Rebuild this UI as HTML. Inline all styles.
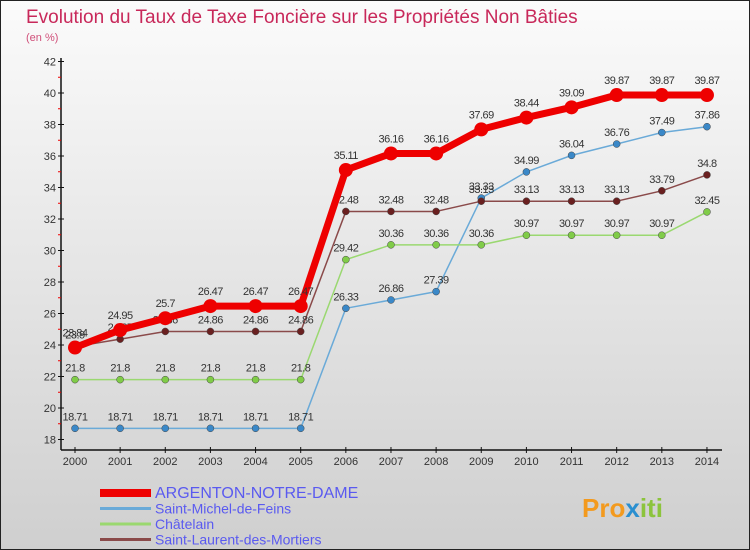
<!DOCTYPE html>
<html><head><meta charset="utf-8"><style>
body{margin:0;width:750px;height:550px;overflow:hidden;font-family:"Liberation Sans",sans-serif}
svg{display:block}
</style></head><body>
<svg id="c" width="750" height="550">
<defs><linearGradient id="bg" x1="0" y1="0" x2="0" y2="1"><stop offset="0" stop-color="#fbfbfb"/><stop offset="1" stop-color="#cfcfcf"/></linearGradient></defs>
<rect x="0.5" y="0.5" width="749" height="549" fill="url(#bg)" stroke="#222"/>
<text x="26" y="23" font-size="19" fill="#c8285a">Evolution du Taux de Taxe Foncière sur les Propriétés Non Bâties</text>
<text x="26" y="41" font-size="11" fill="#d0507a">(en %)</text>
<g id="axes"></g><g id="series"></g><g id="legend"></g>
<text x="582" y="517" font-size="26" font-weight="bold" fill="#f39a1e">Pro<tspan fill="#2a8fd0">x</tspan><tspan fill="#8cc43c">iti</tspan></text>
</svg>
<script>
const years=[2000,2001,2002,2003,2004,2005,2006,2007,2008,2009,2010,2011,2012,2013,2014];
const yTicks=[18,20,22,24,26,28,30,32,34,36,38,40,42];
const argenton=[23.84,24.95,25.7,26.47,26.47,26.47,35.11,36.16,36.16,37.69,38.44,39.09,39.87,39.87,39.87];
const michel=[18.71,18.71,18.71,18.71,18.71,18.71,26.33,26.86,27.39,33.33,34.99,36.04,36.76,37.49,37.86];
const chatelain=[21.8,21.8,21.8,21.8,21.8,21.8,29.42,30.36,30.36,30.36,30.97,30.97,30.97,30.97,32.45];
const laurent=[23.9,24.37,24.86,24.86,24.86,24.86,32.48,32.48,32.48,33.13,33.13,33.13,33.13,33.79,34.8];
const NS="http://www.w3.org/2000/svg";
const X=i=>75+i*45.14, Y=v=>439.5-(v-18)*15.75;
function mk(t,a,p){const e=document.createElementNS(NS,t);for(const k in a)e.setAttribute(k,a[k]);p.appendChild(e);return e;}
const ax=document.getElementById('axes');
let e=mk('line',{x1:61,y1:58,x2:61,y2:450,stroke:'#111','stroke-width':1.5},ax);

e=mk('line',{x1:61,y1:450,x2:722,y2:450,stroke:'#111','stroke-width':1.5},ax);

yTicks.forEach((v,i)=>{
  mk('line',{x1:58,y1:Y(v),x2:64,y2:Y(v),stroke:'#111'},ax);
  if(i<yTicks.length-1) mk('line',{x1:58,y1:Y(v+1),x2:61,y2:Y(v+1),stroke:'#e00'},ax);
  const t=mk('text',{x:56,y:Y(v)+4,'font-size':11,fill:'#333','text-anchor':'end'},ax);t.textContent=v;
  
});
years.forEach((y,i)=>{
  mk('line',{x1:X(i),y1:447,x2:X(i),y2:453,stroke:'#111'},ax);
  const t=mk('text',{x:X(i),y:465,'font-size':11,fill:'#333','text-anchor':'middle'},ax);t.textContent=y;
  
});
const sg=document.getElementById('series');
const series=[
 {n:'saint-michel',d:michel,c:'#6aaad8',m:'#3a88c8',w:1.5,r:3.5},
 {n:'chatelain',d:chatelain,c:'#9ad870',m:'#80cc48',w:1.5,r:3.5},
 {n:'saint-laurent',d:laurent,c:'#8a4a4a',m:'#6a2020',w:1.5,r:3.5},
 {n:'argenton',d:argenton,c:'#ee0000',m:'#ee0000',w:7,r:7}];
series.forEach(s=>{
  const g=mk('g',{},sg);
  
  const p=mk('polyline',{points:s.d.map((v,i)=>X(i)+','+Y(v)).join(' '),fill:'none',stroke:s.c,'stroke-width':s.w,'stroke-linejoin':'round'},g);
  
  s.d.forEach((v,i)=>{
    const c=mk('circle',{cx:X(i),cy:Y(v),r:s.r,fill:s.m,stroke:s.n=='argenton'?'none':'#444','stroke-width':0.5},g);
    
    const t=mk('text',{x:X(i),y:Y(v)-(s.n=='argenton'?11:8),'font-size':11,fill:'#333','text-anchor':'middle','letter-spacing':'-0.5'},g);
    t.textContent=v;
    
  });
});
const lg=document.getElementById('legend');
const leg=[['ARGENTON-NOTRE-DAME','#ee0000',8,16],['Saint-Michel-de-Feins','#6aaad8',3,14],['Châtelain','#9ad870',3,14],['Saint-Laurent-des-Mortiers','#8a4a4a',3,14]];
leg.forEach((l,i)=>{
  const y=493+i*15.5;
  const g=mk('g',{},lg);
  
  mk('line',{x1:100,y1:y,x2:151,y2:y,stroke:l[1],'stroke-width':l[2]},g);
  const t=mk('text',{x:155,y:y+5,'font-size':l[3],fill:'#5a5af0'},g);t.textContent=l[0];
});
</script>
</body></html>
